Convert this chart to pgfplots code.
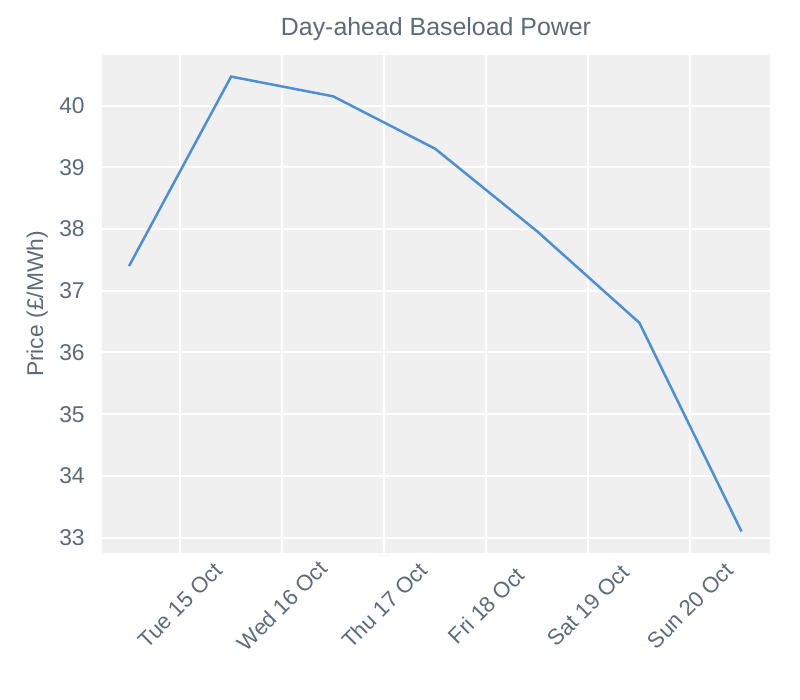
\documentclass[border=0pt]{standalone}
\usepackage{fontspec}
\setmainfont{Liberation Sans}
\usepackage{pgfplots}
\pgfplotsset{compat=1.18}
\definecolor{txt}{HTML}{5B6B78}
\definecolor{bg}{HTML}{F0F0F0}
\definecolor{line}{HTML}{4C8FD6}

\begin{document}
\begin{tikzpicture}[x=0.7227pt,y=0.7227pt]
\begin{axis}[
    at={(73.72pt,106.24pt)},
    anchor=south west,
    scale only axis,
    width=482.8pt,
    height=359.9pt,
    xmin=0.235, xmax=6.78,
    ymin=32.75, ymax=40.82,
    axis background/.style={fill=bg},
    axis line style={draw=none},
    major tick length=0pt,
    grid=major,
    major grid style={white, line width=1.4pt},
    xtick={1,2,3,4,5,6},
    xticklabels={Tue 15 Oct, Wed 16 Oct, Thu 17 Oct, Fri 18 Oct, Sat 19 Oct, Sun 20 Oct},
    ytick={33,34,...,40},
    xticklabel style={yshift=-38pt, rotate=45, anchor=center, font=\fontsize{16}{19}\selectfont, text=txt},
    yticklabel style={xshift=-9pt, font=\fontsize{16.5}{19}\selectfont, text=txt},
    /pgf/number format/assume math mode=true,
    ylabel={Price (£/MWh)},
    ylabel style={at={(axis description cs:-0.097,0.5)}, anchor=center, font=\fontsize{16.5}{19}\selectfont, text=txt},
    title={Day-ahead Baseload Power},
    title style={at={(axis description cs:0.5,1.036)}, anchor=center, font=\fontsize{18}{21}\selectfont, text=txt},
]
\addplot[line, line width=1.8pt] coordinates {
    (0.5, 37.40)
    (1.5, 40.47)
    (2.5, 40.15)
    (3.5, 39.30)
    (4.5, 37.96)
    (5.5, 36.48)
    (6.5, 33.10)
};
\end{axis}
% page of 800 x 700 px
\pgfresetboundingbox
\path[use as bounding box] (0pt,0pt) rectangle (578.16pt,505.89pt);
\end{tikzpicture}
\end{document}
